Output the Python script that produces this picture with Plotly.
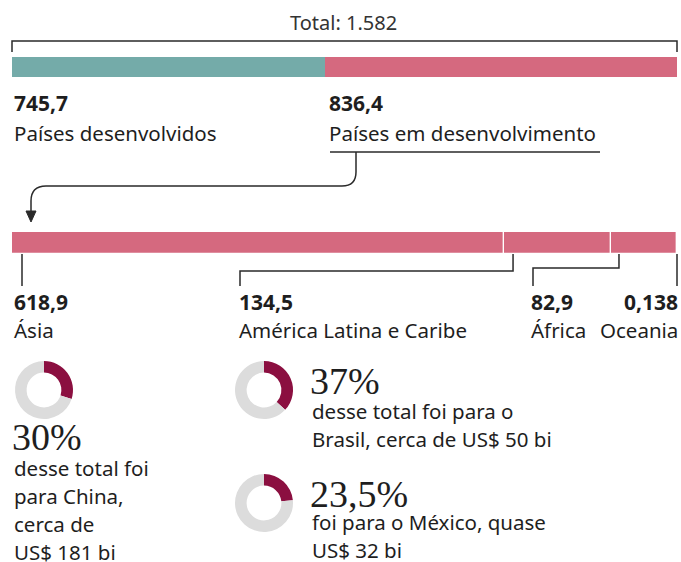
import plotly.graph_objects as go

# ---------------- data ----------------
total_label = "Total: 1.582"
top_labels = ["Países desenvolvidos", "Países em desenvolvimento"]
top_values = [745.7, 836.4]
top_value_text = ["745,7", "836,4"]

region_labels = ["Ásia", "América Latina e Caribe", "África", "Oceania"]
region_values = [618.9, 134.5, 82.9, 0.138]
region_value_text = ["618,9", "134,5", "82,9", "0,138"]

donut_pcts = [30.0, 37.0, 23.5]
donut_pct_text = ["30%", "37%", "23,5%"]
donut_notes = [
    ["desse total foi", "para China,", "cerca de", "US$ 181 bi"],
    ["desse total foi para o", "Brasil, cerca de US$ 50 bi"],
    ["foi para o México, quase", "US$ 32 bi"],
]

# ---------------- style ----------------
W, H = 681, 562
TEAL = "#74ABA9"
PINK = "#D5697F"
MAROON = "#8B0F40"
GREY = "#DCDCDC"
INK = "#1e1e1e"
LINE = "#2a2a2a"
SANS = "Noto Sans, Open Sans, sans-serif"
SERIF = "Liberation Serif, DejaVu Serif, serif"
TXT = 20.5
NUM = 21

BAR_L, BAR_R = 12, 677          # pixel extent of bars
TOP_Y, BOT_Y = 67, 243          # bar centres (px)

k_top = sum(top_values) / (BAR_R - BAR_L)
k_bot = sum(region_values) / (BAR_R - BAR_L)

fig = go.Figure()

# top bar
base = 0
for v, c in zip(top_values, [TEAL, PINK]):
    fig.add_trace(go.Bar(x=[v], y=[TOP_Y], base=[base], orientation="h", width=20,
                         marker=dict(color=c, line=dict(width=0)),
                         xaxis="x", yaxis="y", hoverinfo="skip", showlegend=False))
    base += v

# bottom bar
base = 0
starts = []
for v in region_values:
    starts.append(base)
    fig.add_trace(go.Bar(x=[v], y=[BOT_Y], base=[base], orientation="h", width=22,
                         marker=dict(color=PINK, line=dict(width=1.2, color="white")),
                         xaxis="x2", yaxis="y", hoverinfo="skip", showlegend=False))
    base += v

# invisible trace for the pixel axis
fig.add_trace(go.Scatter(x=[0, W], y=[0, H], mode="markers", marker=dict(opacity=0),
                         xaxis="x3", yaxis="y", hoverinfo="skip", showlegend=False))

def px_bot(v):
    return BAR_L + v / k_bot

shapes = []
def line(path, width=1.5):
    shapes.append(dict(type="path", path=path, xref="x3", yref="y",
                       line=dict(color=LINE, width=width)))

# top bracket
line(f"M {BAR_L},52 L {BAR_L},41 L {BAR_R},41 L {BAR_R},52")
# underline
line("M 330,152 L 600,152")
# curved arrow
line("M 356,152 L 356,172 Q 356,186 342,186 L 46,186 Q 31,186 31,201 L 31,213")
shapes.append(dict(type="path", path="M 26,211 L 36,211 L 31,222 Z", xref="x3", yref="y",
                   fillcolor=LINE, line=dict(color=LINE, width=1)))

# bottom connectors
tick_x = [px_bot(starts[0]) + 10, px_bot(starts[1]) + 9, px_bot(starts[2]) + 8, BAR_R]
label_x = [12, 237, 529, 677]
line(f"M {tick_x[0]},254 L {tick_x[0]},286")
line(f"M {tick_x[1]},254 L {tick_x[1]},271 L 240,271 L 240,286")
line(f"M {tick_x[2]},254 L {tick_x[2]},268 L 533,268 L 533,286")
line(f"M {tick_x[3]},254 L {tick_x[3]},286")

ann = []
def text(x, y, t, size=TXT, font=SANS, anchor="left", color=INK):
    ann.append(dict(x=x, y=y, xref="x3", yref="y", text=t, showarrow=False,
                    xanchor=anchor, yanchor="middle",
                    font=dict(family=font, size=size, color=color)))

text(343, 22, total_label, size=20, anchor="center", color="#333")
text(12, 103, f"<b>{top_value_text[0]}</b>", size=NUM)
text(12, 133, top_labels[0])
text(327, 103, f"<b>{top_value_text[1]}</b>", size=NUM)
text(327, 133, top_labels[1])

for i in range(4):
    anc = "right" if i == 3 else "left"
    xx = label_x[i] + (3 if i == 3 else 0)
    text(xx, 302, f"<b>{region_value_text[i]}</b>", size=NUM, anchor=anc)
    text(xx, 330, region_labels[i], anchor=anc)

# donuts
centers = [(44, 390), (264, 390), (264, 503)]
R = 29
for (cx, cy), p in zip(centers, donut_pcts):
    fig.add_trace(go.Pie(values=[p, 100 - p], marker=dict(colors=[MAROON, GREY]),
                         hole=0.6, sort=False, direction="clockwise", rotation=0,
                         textinfo="none", hoverinfo="skip", showlegend=False,
                         domain=dict(x=[(cx - R) / W, (cx + R) / W],
                                     y=[1 - (cy + R) / H, 1 - (cy - R) / H])))

text(10, 437, donut_pct_text[0], size=38, font=SERIF)
for j, t in enumerate(donut_notes[0]):
    text(12, 468 + 28 * j, t)
text(308, 381, donut_pct_text[1], size=38, font=SERIF)
for j, t in enumerate(donut_notes[1]):
    text(310, 411 + 28 * j, t)
text(308, 494, donut_pct_text[2], size=38, font=SERIF)
for j, t in enumerate(donut_notes[2]):
    text(310, 522 + 28 * j, t)

fig.update_layout(
    width=W, height=H, margin=dict(l=0, r=0, t=0, b=0),
    paper_bgcolor="white", plot_bgcolor="white", barmode="overlay", bargap=0,
    xaxis=dict(range=[-BAR_L * k_top, (W - BAR_L) * k_top], visible=False, fixedrange=True),
    xaxis2=dict(range=[-BAR_L * k_bot, (W - BAR_L) * k_bot], visible=False, overlaying="x", fixedrange=True),
    xaxis3=dict(range=[0, W], visible=False, overlaying="x", fixedrange=True),
    yaxis=dict(range=[H, 0], visible=False, fixedrange=True),
    shapes=shapes, annotations=ann,
)

fig.write_html("out.html", config={"displayModeBar": False},
               post_script="document.body.style.margin='0px';document.body.style.overflow='hidden';")
